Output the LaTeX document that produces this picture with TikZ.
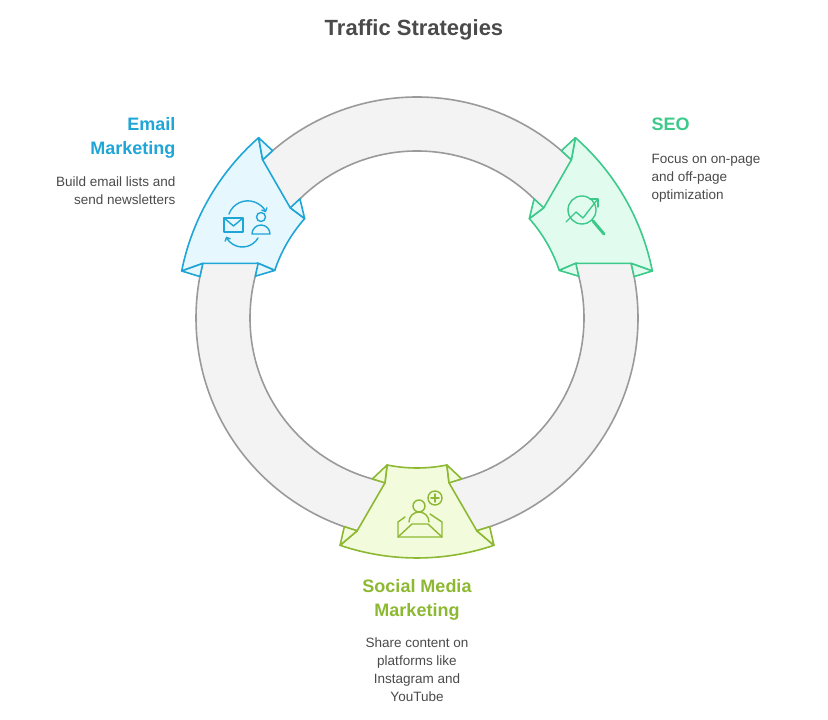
\documentclass[tikz,border=0pt]{standalone}
\usepackage{fontspec}
\setmainfont{Liberation Sans}
\usetikzlibrary{arrows.meta}
\definecolor{ringfill}{HTML}{F3F3F3}
\definecolor{ringline}{HTML}{9A9A9A}
\definecolor{emc}{HTML}{1FA5D6}
\definecolor{emf}{HTML}{E6F7FD}
\definecolor{seoc}{HTML}{3CC98A}
\definecolor{seof}{HTML}{E2FBEF}
\definecolor{soc}{HTML}{8DB832}
\definecolor{sof}{HTML}{F2FBDC}
\definecolor{txt}{HTML}{4A4A4A}
\newcommand\mypiece[3]{%
\filldraw[draw=#2,fill=#3,line width=1.6pt,line join=round]
 ({#1+11.5}:150pt) -- ({#1+11}:168pt) -- ({#1+15.7}:221pt) -- ({#1+18.7}:240pt)
 arc[start angle={#1+18.7}, end angle={#1-18.7}, radius=240pt]
 -- ({#1-15.7}:221pt) -- ({#1-11}:168pt) -- ({#1-11.5}:150pt)
 arc[start angle={#1-11.5}, end angle={#1+11.5}, radius=150pt] -- cycle;
\filldraw[draw=#2,fill=#3,line width=1.6pt,line join=round]
 ({#1+11.5}:150pt) -- ({#1+15.5}:167pt) -- ({#1+11}:168pt) -- cycle
 ({#1-11.5}:150pt) -- ({#1-15.5}:167pt) -- ({#1-11}:168pt) -- cycle
 ({#1+18.7}:240pt) -- ({#1+19.2}:221pt) -- ({#1+15.7}:221pt) -- cycle
 ({#1-18.7}:240pt) -- ({#1-19.2}:221pt) -- ({#1-15.7}:221pt) -- cycle;}
\tikzset{
 ttl/.style={font=\bfseries\fontsize{18}{24}\selectfont},
 desc/.style={font=\fontsize{13.5}{18}\selectfont, text=txt},
 ico/.style={line width=1.4pt, line cap=round, line join=round}
}
\begin{document}
\begin{tikzpicture}
\useasboundingbox (0,0) rectangle (828pt,720pt);
\node[font=\bfseries\fontsize{22}{26}\selectfont, text=txt] (title) at (414pt,690pt) {Traffic Strategies};
\begin{scope}[shift={(417pt,402pt)}]
\fill[ringfill,even odd rule] (0,0) circle[radius=221pt] (0,0) circle[radius=167pt];
\draw[ringline,line width=1.6pt] (0,0) circle[radius=221pt] (0,0) circle[radius=167pt];
\mypiece{150}{emc}{emf}
\mypiece{30}{seoc}{seof}
\mypiece{270}{soc}{sof}
\end{scope}
% email icon
\begin{scope}[emc,ico]
\draw (224pt,488pt) rectangle (243pt,502pt);
\draw (224pt,502pt) -- (233.5pt,494pt) -- (243pt,502pt);
\draw (261pt,503pt) circle[radius=4.5pt];
\draw (252pt,486pt) -- (270pt,486pt) arc[start angle=0,end angle=180,radius=9pt] -- cycle;
\draw[-{Straight Barb[length=3pt]}] (229pt,506pt) arc[start angle=160,end angle=25,radius=20pt];
\draw[-{Straight Barb[length=3pt]}] (258pt,482pt) arc[start angle=-30,end angle=-155,radius=18pt];
\end{scope}
% seo icon
\begin{scope}[seoc,ico]
\draw (582pt,510pt) circle[radius=14pt];
\draw[line width=3pt] (593pt,499pt) -- (604pt,486pt);
\draw (566pt,498pt) -- (576pt,508pt) -- (583pt,502pt) -- (597pt,520pt);
\draw (590pt,521pt) -- (598pt,521pt) -- (598pt,513pt);
\end{scope}
% social icon
\begin{scope}[soc,ico]
\draw (405pt,203pt) -- (398pt,198pt) -- (398pt,183pt) -- (442pt,183pt) -- (442pt,198pt) -- (430pt,206pt);
\draw (398pt,183pt) -- (412pt,196pt) -- (428pt,196pt) -- (442pt,183pt);
\draw (419pt,214pt) circle[radius=6pt];
\draw (409pt,198pt) arc[start angle=180,end angle=0,radius=10pt];
\draw (435pt,222pt) circle[radius=7pt];
\draw (435pt,218pt) -- (435pt,226pt) (431pt,222pt) -- (439pt,222pt);
\end{scope}
% texts
\node[ttl,text=emc,align=right,anchor=north east] (emt) at (179pt,606pt) {Email\\Marketing};
\node[desc,align=right,anchor=north east] (emd) at (179pt,547pt) {Build email lists and\\send newsletters};
\node[ttl,text=seoc,align=left,anchor=north west] (seot) at (648pt,606pt) {SEO};
\node[desc,align=left,anchor=north west] (seod) at (648pt,569pt) {Focus on on-page\\and off-page\\optimization};
\node[ttl,text=soc,align=center,anchor=north] (sot) at (417pt,144pt) {Social Media\\Marketing};
\node[desc,align=center,anchor=north] (sod) at (417pt,86pt) {Share content on\\platforms like\\Instagram and\\YouTube};
\end{tikzpicture}
\end{document}
